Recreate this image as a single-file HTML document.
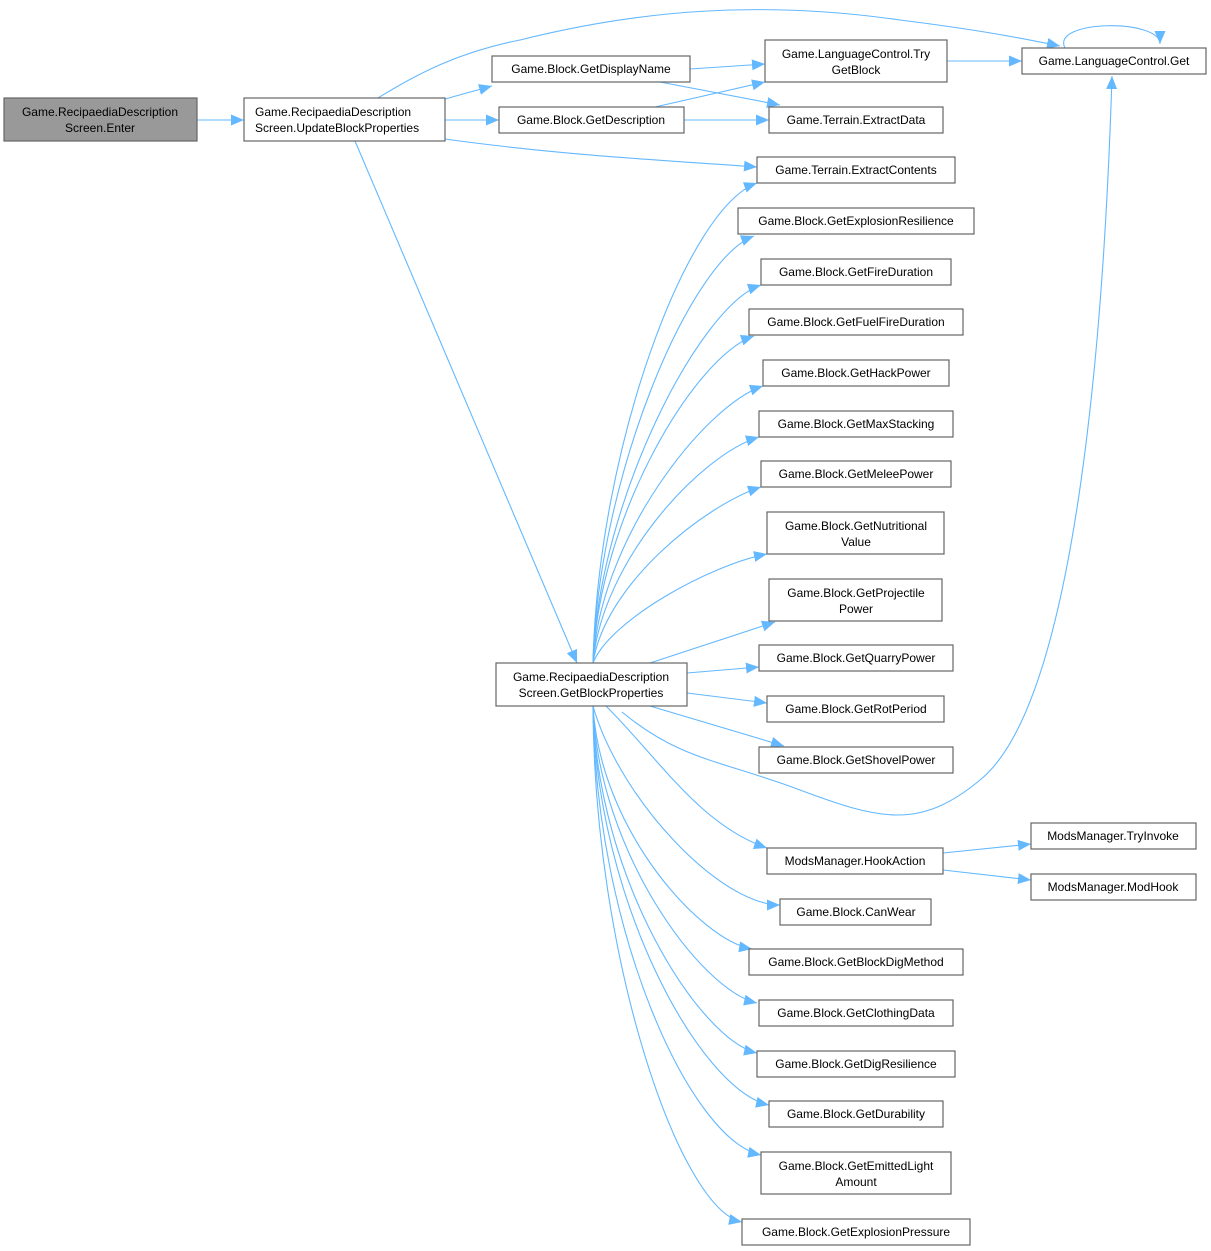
<!DOCTYPE html>
<html><head><meta charset="utf-8"><style>
html,body{margin:0;padding:0;background:#fff;}
svg{display:block}
text{font-family:"Liberation Sans",Arial,sans-serif;font-size:12px;fill:#000;}
.b{fill:#fff;stroke:#666;stroke-width:1.2}
.e{fill:none;stroke:#63b8ff;stroke-width:1.1}
</style></head><body>
<svg width="1211" height="1251" viewBox="0 0 1211 1251" xmlns="http://www.w3.org/2000/svg">
<defs><marker id="a" markerUnits="userSpaceOnUse" markerWidth="14" markerHeight="12" refX="13" refY="6" orient="auto"><path d="M0,0.5 L13,6 L0,11.5 z" fill="#63b8ff"/></marker></defs>
<g class="e" marker-end="url(#a)">
<path d="M197,120 L244,120"/>
<path d="M378,98 C420,72 460,52 520,40 C640,10 760,0 900,20 C980,30 1020,38 1060,46"/>
<path d="M445,99 L492,86"/>
<path d="M445,120 L499,120"/>
<path d="M445,139 C560,155 660,160 757,167"/>
<path d="M355,141 L577,663"/>
<path d="M690,69 L765,64"/>
<path d="M660,82 L780,105"/>
<path d="M655,107 L765,82"/>
<path d="M684,120 L769,120"/>
<path d="M947,61 L1022,61"/>
<path d="M1065,48 C1050,20 1160,18 1160,44"/>
<path d="M593,663 C598,447 687,208 757,183"/>
<path d="M593,663 C598,477 690,260 754,236"/>
<path d="M593,663 C598,502 700,305 761,285"/>
<path d="M593,663 C599,516 695,356 754,336"/>
<path d="M593,663 C600,538 705,405 763,386"/>
<path d="M593,663 C602,561 700,455 759,437"/>
<path d="M593,663 C605,584 705,505 761,487"/>
<path d="M593,663 C610,620 710,565 767,554"/>
<path d="M650,663 L775,622"/>
<path d="M687,673 L759,667"/>
<path d="M687,693 L767,703"/>
<path d="M650,706 L784,746"/>
<path d="M622,712 C680,760 720,760 800,790 C880,820 920,830 980,780 C1080,700 1105,300 1112,76"/>
<path d="M606,706 C660,760 700,825 767,848"/>
<path d="M593,706 C620,800 720,905 780,905"/>
<path d="M593,706 C600,830 700,940 752,949"/>
<path d="M593,706 C598,850 700,990 757,1003"/>
<path d="M593,706 C597,880 700,1040 757,1053"/>
<path d="M593,706 C596,900 700,1090 769,1105"/>
<path d="M593,706 C595,930 690,1140 761,1155"/>
<path d="M593,706 C594,960 680,1210 742,1222"/>
<path d="M943,853 L1031,844"/>
<path d="M943,870 L1031,880"/>
</g>
<rect x="4" y="98" width="193" height="43" fill="#999" stroke="#666" stroke-width="1.2"/>
<text x="100" y="116" text-anchor="middle">Game.RecipaediaDescription</text><text x="100" y="132" text-anchor="middle">Screen.Enter</text>
<rect class="b" x="244" y="98" width="201" height="43"/>
<text x="255" y="116">Game.RecipaediaDescription</text><text x="255" y="132">Screen.UpdateBlockProperties</text>
<rect class="b" x="492" y="56" width="198" height="26"/><text x="591" y="73" text-anchor="middle">Game.Block.GetDisplayName</text>
<rect class="b" x="499" y="107" width="185" height="26"/><text x="591" y="124" text-anchor="middle">Game.Block.GetDescription</text>
<rect class="b" x="765" y="40" width="182" height="42"/><text x="856" y="58" text-anchor="middle">Game.LanguageControl.Try</text><text x="856" y="74" text-anchor="middle">GetBlock</text>
<rect class="b" x="1022" y="48" width="184" height="26"/><text x="1114" y="65" text-anchor="middle">Game.LanguageControl.Get</text>
<rect class="b" x="769" y="107" width="174" height="26"/><text x="856" y="124" text-anchor="middle">Game.Terrain.ExtractData</text>
<rect class="b" x="757" y="157" width="198" height="26"/><text x="856" y="174" text-anchor="middle">Game.Terrain.ExtractContents</text>
<rect class="b" x="738" y="208" width="236" height="26"/><text x="856" y="225" text-anchor="middle">Game.Block.GetExplosionResilience</text>
<rect class="b" x="761" y="259" width="190" height="26"/><text x="856" y="276" text-anchor="middle">Game.Block.GetFireDuration</text>
<rect class="b" x="749" y="309" width="214" height="26"/><text x="856" y="326" text-anchor="middle">Game.Block.GetFuelFireDuration</text>
<rect class="b" x="763" y="360" width="186" height="26"/><text x="856" y="377" text-anchor="middle">Game.Block.GetHackPower</text>
<rect class="b" x="759" y="411" width="194" height="26"/><text x="856" y="428" text-anchor="middle">Game.Block.GetMaxStacking</text>
<rect class="b" x="761" y="461" width="190" height="26"/><text x="856" y="478" text-anchor="middle">Game.Block.GetMeleePower</text>
<rect class="b" x="767" y="512" width="177" height="42"/><text x="856" y="530" text-anchor="middle">Game.Block.GetNutritional</text><text x="856" y="546" text-anchor="middle">Value</text>
<rect class="b" x="769" y="579" width="173" height="42"/><text x="856" y="597" text-anchor="middle">Game.Block.GetProjectile</text><text x="856" y="613" text-anchor="middle">Power</text>
<rect class="b" x="759" y="645" width="194" height="26"/><text x="856" y="662" text-anchor="middle">Game.Block.GetQuarryPower</text>
<rect class="b" x="767" y="696" width="177" height="26"/><text x="856" y="713" text-anchor="middle">Game.Block.GetRotPeriod</text>
<rect class="b" x="759" y="747" width="194" height="26"/><text x="856" y="764" text-anchor="middle">Game.Block.GetShovelPower</text>
<rect class="b" x="496" y="663" width="191" height="43"/><text x="591" y="681" text-anchor="middle">Game.RecipaediaDescription</text><text x="591" y="697" text-anchor="middle">Screen.GetBlockProperties</text>
<rect class="b" x="767" y="848" width="176" height="26"/><text x="855" y="865" text-anchor="middle">ModsManager.HookAction</text>
<rect class="b" x="1031" y="823" width="165" height="26"/><text x="1113" y="840" text-anchor="middle">ModsManager.TryInvoke</text>
<rect class="b" x="1031" y="874" width="165" height="26"/><text x="1113" y="891" text-anchor="middle">ModsManager.ModHook</text>
<rect class="b" x="780" y="899" width="151" height="26"/><text x="856" y="916" text-anchor="middle">Game.Block.CanWear</text>
<rect class="b" x="749" y="949" width="214" height="26"/><text x="856" y="966" text-anchor="middle">Game.Block.GetBlockDigMethod</text>
<rect class="b" x="759" y="1000" width="194" height="26"/><text x="856" y="1017" text-anchor="middle">Game.Block.GetClothingData</text>
<rect class="b" x="757" y="1051" width="198" height="26"/><text x="856" y="1068" text-anchor="middle">Game.Block.GetDigResilience</text>
<rect class="b" x="769" y="1101" width="174" height="26"/><text x="856" y="1118" text-anchor="middle">Game.Block.GetDurability</text>
<rect class="b" x="761" y="1152" width="190" height="42"/><text x="856" y="1170" text-anchor="middle">Game.Block.GetEmittedLight</text><text x="856" y="1186" text-anchor="middle">Amount</text>
<rect class="b" x="742" y="1219" width="228" height="26"/><text x="856" y="1236" text-anchor="middle">Game.Block.GetExplosionPressure</text>
</svg>
</body></html>
